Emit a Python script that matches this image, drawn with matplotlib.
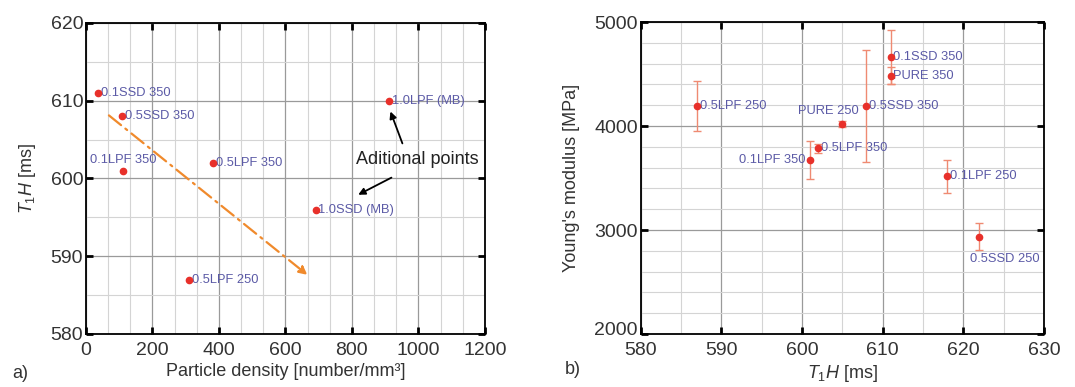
import matplotlib
matplotlib.use("Agg")
import matplotlib.pyplot as plt
import matplotlib.transforms as mtransforms
from matplotlib.ticker import MultipleLocator

plt.rcParams['font.family'] = ['Liberation Sans', 'DejaVu Sans']
plt.rcParams['mathtext.fontset'] = 'custom'
plt.rcParams['mathtext.rm'] = 'Liberation Sans'
plt.rcParams['mathtext.it'] = 'Liberation Sans:italic'

# ---- data panel a ----
a_labels = ['0.1SSD 350', '0.5SSD 350', '0.1LPF 350', '0.5LPF 350', '0.5LPF 250', '1.0SSD (MB)', '1.0LPF (MB)']
a_density = [36, 108, 111, 383, 310, 691, 912]
a_t1h = [611, 608, 601, 602, 587, 596, 610]
a_trend_x = [69, 666]
a_trend_y = [608.1, 587.6]

# ---- data panel b ----
b_labels = ['0.5LPF 250', 'PURE 250', '0.5SSD 350', '0.1SSD 350', 'PURE 350', '0.1LPF 350', '0.5LPF 350', '0.1LPF 250', '0.5SSD 250']
b_t1h = [587, 605, 608, 611, 611, 601, 602, 618, 622]
b_modulus = [4190, 4020, 4190, 4665, 4485, 3675, 3785, 3515, 2936]
b_err = [240, 30, 540, 260, 85, 185, 45, 155, 128]

red = '#e8302a'
lab_col = '#5b5aa6'
err_col = '#ef8a72'
txt_col = '#333333'

fig = plt.figure(figsize=(10.75, 3.87), dpi=100)
axa = fig.add_axes([0.080, 0.137, 0.371, 0.804])
axb = fig.add_axes([0.596, 0.137, 0.375, 0.806])

def style(ax):
    ax.grid(which='major', color='#9a9a9a', lw=0.9)
    ax.grid(which='minor', color='#d4d4d4', lw=0.8)
    ax.set_axisbelow(True)
    ax.tick_params(which='major', direction='in', length=5, width=2, top=True, right=True,
                   labelsize=14, labelcolor=txt_col)
    ax.tick_params(axis='x', pad=6)
    ax.tick_params(axis='y', pad=2)
    ax.tick_params(which='minor', length=0)
    for s in ax.spines.values():
        s.set_linewidth(1.3)

# panel a
axa.set_xlim(0, 1200)
axa.set_ylim(580, 620)
axa.xaxis.set_major_locator(MultipleLocator(200))
axa.xaxis.set_minor_locator(MultipleLocator(200 / 3))
axa.yaxis.set_major_locator(MultipleLocator(10))
axa.yaxis.set_minor_locator(MultipleLocator(5))
style(axa)
axa.plot(a_density, a_t1h, 'o', color=red, ms=4.5, zorder=5)
offsets_a = {'0.1LPF 350': ((0, 3), 'center', 'bottom')}
for lbl, x, y in zip(a_labels, a_density, a_t1h):
    off, ha, va = offsets_a.get(lbl, ((2, 0), 'left', 'center'))
    axa.annotate(lbl, (x, y), xytext=off, textcoords='offset points', ha=ha, va=va,
                 fontsize=9.3, color=lab_col)
axa.annotate('', xy=(a_trend_x[1], a_trend_y[1]), xytext=(a_trend_x[0], a_trend_y[0]),
             arrowprops=dict(arrowstyle='-|>', color='#f08a2c', lw=1.6, ls=(0, (7, 2.5, 1, 2.5)),
                             mutation_scale=12, shrinkA=0, shrinkB=0))
axa.text(998, 602.4, 'Aditional points', fontsize=13, color='#222222', ha='center', va='center')
axa.annotate('', xy=(916, 608.6), xytext=(952, 604.5),
             arrowprops=dict(arrowstyle='-|>', color='black', lw=1.3, mutation_scale=10, shrinkA=0, shrinkB=0))
axa.annotate('', xy=(819, 597.9), xytext=(919, 600.1),
             arrowprops=dict(arrowstyle='-|>', color='black', lw=1.3, mutation_scale=10, shrinkA=0, shrinkB=0))
axa.set_xlabel('Particle density [number/mm³]', fontsize=13, color=txt_col, labelpad=3)
axa.set_ylabel(r'$T_1H$ [ms]', fontsize=13, color=txt_col, labelpad=9)

# panel b
axb.set_xlim(580, 630)
axb.set_ylim(2000, 5000)
axb.xaxis.set_major_locator(MultipleLocator(10))
axb.xaxis.set_minor_locator(MultipleLocator(5))
axb.yaxis.set_major_locator(MultipleLocator(1000))
axb.yaxis.set_minor_locator(MultipleLocator(200))
style(axb)
axb.errorbar(b_t1h, b_modulus, yerr=b_err, fmt='o', color=red, ms=4.5, ecolor=err_col,
             elinewidth=1, capsize=3, capthick=1, zorder=5)
offsets_b = {
    'PURE 250': ((-10, 5), 'center', 'bottom'),
    '0.1LPF 350': ((-3, 0), 'right', 'center'),
    '0.5SSD 250': ((-6.5, -12), 'left', 'top'),
}
for lbl, x, y in zip(b_labels, b_t1h, b_modulus):
    off, ha, va = offsets_b.get(lbl, ((2, 0), 'left', 'center'))
    axb.annotate(lbl, (x, y), xytext=off, textcoords='offset points', ha=ha, va=va,
                 fontsize=9.3, color=lab_col)
axb.set_xlabel(r'$T_1H$ [ms]', fontsize=13, color=txt_col, labelpad=3)
axb.set_ylabel("Young's modulus [MPa]", fontsize=13, color=txt_col, labelpad=10)

# nudge the lowest y tick label of panel b upward (as in the reference)
fig.canvas.draw()
shift = mtransforms.ScaledTranslation(0, 4 / 72, fig.dpi_scale_trans)
for tl in axb.get_yticklabels():
    if tl.get_position()[1] == 2000:
        tl.set_transform(tl.get_transform() + shift)

fig.text(12 / 1075, 1 - 373 / 387, 'a)', fontsize=13, color=txt_col, va='center')
fig.text(565 / 1075, 1 - 370 / 387, 'b)', fontsize=13, color=txt_col, va='center')

fig.savefig('out.png', dpi=100)
